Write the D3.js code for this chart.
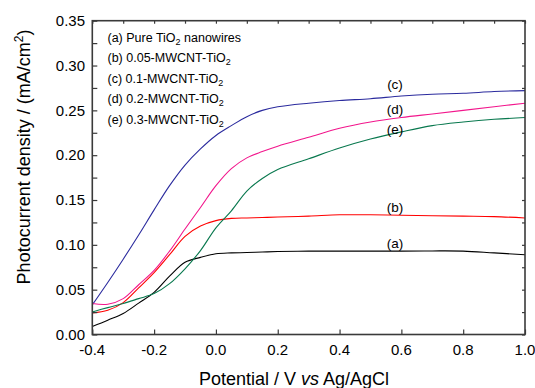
<!DOCTYPE html>
<html>
<head>
<meta charset="utf-8">
<script src="https://cdn.jsdelivr.net/npm/d3@7"></script>
<style>
  body { margin: 0; background: #fff; }
  svg { font-family: 'Liberation Sans', Arial, sans-serif; }
</style>
</head>
<body>
<svg id="chart" width="535" height="388"></svg>
<script>
// potential (V vs Ag/AgCl)
const potential = [-0.4, -0.35, -0.3, -0.25, -0.2, -0.15, -0.1, -0.05, 0, 0.05, 0.1, 0.15, 0.2, 0.3, 0.4, 0.5, 0.6, 0.7, 0.8, 0.9, 1.0];

// photocurrent density (mA/cm2)
const pureTiO2   = [0.009, 0.016, 0.0234, 0.035, 0.047, 0.065, 0.0805, 0.086, 0.090, 0.091, 0.0914, 0.092, 0.0925, 0.093, 0.093, 0.093, 0.093, 0.0932, 0.093, 0.091, 0.089];
const cnt005     = [0.024, 0.027, 0.0356, 0.052, 0.069, 0.089, 0.1095, 0.121, 0.127, 0.1295, 0.130, 0.1305, 0.131, 0.132, 0.1335, 0.1335, 0.133, 0.1325, 0.132, 0.1315, 0.130];
const cnt01      = [0.033, 0.058, 0.084, 0.111, 0.139, 0.166, 0.189, 0.207, 0.222, 0.233, 0.243, 0.250, 0.254, 0.258, 0.261, 0.263, 0.266, 0.268, 0.269, 0.271, 0.272];
const cnt02      = [0.0345, 0.0337, 0.040, 0.0555, 0.0715, 0.093, 0.1177, 0.1417, 0.166, 0.185, 0.197, 0.204, 0.210, 0.220, 0.230, 0.237, 0.242, 0.246, 0.250, 0.254, 0.258];
const cnt03      = [0.0252, 0.030, 0.0345, 0.040, 0.0456, 0.0567, 0.0733, 0.0936, 0.119, 0.138, 0.160, 0.174, 0.184, 0.196, 0.208, 0.218, 0.226, 0.233, 0.237, 0.240, 0.242];

const seriesNames = ['Pure TiO', '0.05-MWCNT-TiO', '0.1-MWCNT-TiO', '0.2-MWCNT-TiO', '0.3-MWCNT-TiO'];
const seriesTags = ['(a)', '(b)', '(c)', '(d)', '(e)'];
const xTicks = [-0.4, -0.2, 0.0, 0.2, 0.4, 0.6, 0.8, 1.0];
const yTicks = [0.00, 0.05, 0.10, 0.15, 0.20, 0.25, 0.30, 0.35];

const colors = ['#000000', '#ff0000', '#2b2b9e', '#f2168c', '#08784e'];

function drawChart() {
  const svg = d3.select('svg#chart');
  const left = 92.3, right = 525, top = 20.7, bottom = 334.5;

  const x = d3.scaleLinear().domain([-0.4, 1.0]).range([left, right]);
  const y = d3.scaleLinear().domain([0, 0.35]).range([bottom, top]);

  const allSeries = [pureTiO2, cnt005, cnt01, cnt02, cnt03];

  const line = d3.line()
      .x((d, i) => x(potential[i]))
      .y(d => y(d))
      .curve(d3.curveCatmullRom.alpha(0.5));

  svg.append('g')
    .selectAll('path')
    .data(allSeries)
    .enter().append('path')
      .attr('d', line)
      .attr('fill', 'none')
      .attr('stroke', (d, i) => colors[i])
      .attr('stroke-width', 1.1);

  const axisColor = '#3a3a3a';

  // bottom axis: inward ticks
  const minorX = d3.range(-0.4, 1.0001, 0.1);
  const gb = svg.append('g').attr('transform', 'translate(0,' + bottom + ')');
  gb.call(d3.axisBottom(x).tickValues(minorX).tickSize(-3).tickFormat(''));
  gb.call(d3.axisBottom(x).tickValues(xTicks).tickSize(-5).tickFormat(''));
  gb.selectAll('.domain').remove();
  gb.selectAll('line').attr('stroke', axisColor).attr('stroke-width', 1.2);

  // left axis: ticks on both sides
  const minorY = d3.range(0, 0.3501, 0.025);
  const gl = svg.append('g').attr('transform', 'translate(' + left + ',0)');
  gl.call(d3.axisLeft(y).tickValues(minorY).tickSize(2).tickFormat(''));
  gl.call(d3.axisLeft(y).tickValues(yTicks).tickSize(6).tickFormat(''));
  gl.call(d3.axisRight(y).tickValues(minorY).tickSize(5).tickFormat(''));
  gl.selectAll('.domain').remove();
  gl.selectAll('line').attr('stroke', axisColor).attr('stroke-width', 1.2);

  // top and right: small inward ticks
  const gt = svg.append('g').attr('transform', 'translate(0,' + top + ')');
  gt.call(d3.axisTop(x).tickValues(minorX).tickSize(-3).tickFormat(''));
  gt.selectAll('.domain').remove();
  gt.selectAll('line').attr('stroke', axisColor).attr('stroke-width', 1.2);

  const gr = svg.append('g').attr('transform', 'translate(' + right + ',0)');
  gr.call(d3.axisRight(y).tickValues(minorY).tickSize(-3).tickFormat(''));
  gr.selectAll('.domain').remove();
  gr.selectAll('line').attr('stroke', axisColor).attr('stroke-width', 1.2);

  // frame
  svg.append('rect')
      .attr('x', left).attr('y', top)
      .attr('width', right - left).attr('height', bottom - top)
      .attr('fill', 'none')
      .attr('stroke', axisColor)
      .attr('stroke-width', 1.6);

  // tick labels
  svg.append('g')
    .selectAll('text')
    .data(xTicks)
    .enter().append('text')
      .attr('x', d => x(d))
      .attr('y', 355)
      .attr('text-anchor', 'middle')
      .attr('font-size', 15)
      .text(d => d3.format('.1f')(d).replace('−', '-'));

  svg.append('g')
    .selectAll('text')
    .data(yTicks)
    .enter().append('text')
      .attr('x', 85)
      .attr('y', d => y(d) + 5.2)
      .attr('text-anchor', 'end')
      .attr('font-size', 15)
      .text(d => d3.format('.2f')(d));

  // axis titles
  const xt = svg.append('text')
      .attr('x', 294).attr('y', 385)
      .attr('text-anchor', 'middle')
      .attr('font-size', 18);
  xt.append('tspan').text('Potential / V ');
  xt.append('tspan').attr('font-style', 'italic').text('vs');
  xt.append('tspan').text(' Ag/AgCl');

  const yt = svg.append('text')
      .attr('transform', 'translate(30,157) rotate(-90)')
      .attr('text-anchor', 'middle')
      .attr('font-size', 18);
  yt.append('tspan').text('Photocurrent density / (mA/cm');
  yt.append('tspan').attr('font-size', 12).attr('baseline-shift', '60%').text('2');
  yt.append('tspan').text(')');

  // legend
  const legend = svg.append('g')
    .selectAll('text')
    .data(seriesNames)
    .enter().append('text')
      .attr('x', 107.5)
      .attr('y', (d, i) => 41.5 + i * 20.5)
      .attr('font-size', 12.5);
  legend.append('tspan').text((d, i) => seriesTags[i] + ' ' + d);
  legend.append('tspan').attr('font-size', 9).attr('baseline-shift', '-35%').text('2');
  legend.filter((d, i) => i === 0).append('tspan').text(' nanowires');

  // curve tags
  const tagPos = [[395, 248], [395, 212], [395, 89], [395, 114], [395, 134]];
  svg.append('g')
    .selectAll('text')
    .data(seriesTags)
    .enter().append('text')
      .attr('x', (d, i) => tagPos[i][0])
      .attr('y', (d, i) => tagPos[i][1])
      .attr('text-anchor', 'middle')
      .attr('font-size', 13.5)
      .text(d => d);
}

drawChart();
</script>
</body>
</html>
